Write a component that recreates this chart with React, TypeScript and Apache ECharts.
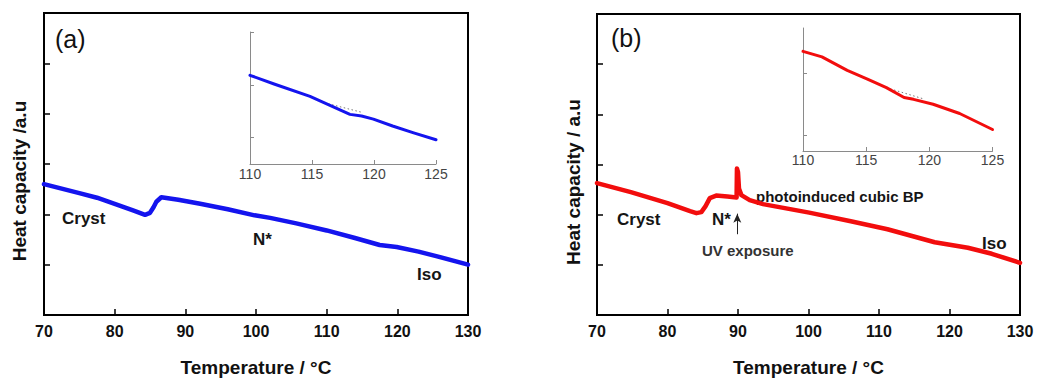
import React, { useEffect, useRef } from "react";
import * as echarts from "echarts";

const FONT = "Liberation Sans, Arial, Helvetica, sans-serif";
const BLUE = "#1414ee";
const RED = "#f20d0d";

// Panel (a) main curve
const tempA = [70, 72.5, 75, 77.5, 80, 82.6, 84.3, 85.0, 85.5, 85.9, 86.6, 89, 92.1, 96, 99.8, 102, 105.7, 110, 114, 117.5, 119.9, 123, 125.5, 130];
const cpA = [2.6, 2.51, 2.42, 2.33, 2.21, 2.08, 1.99, 2.03, 2.14, 2.25, 2.34, 2.29, 2.21, 2.1, 1.98, 1.93, 1.82, 1.68, 1.53, 1.39, 1.35, 1.26, 1.17, 1.0];

// Panel (a) inset
const insetTempA = [110, 112, 114.84, 116.45, 117.3, 118.06, 119.0, 119.95, 121.5, 123.2, 125];
const insetCpA = [1.68, 1.51, 1.28, 1.11, 1.02, 0.94, 0.91, 0.85, 0.72, 0.59, 0.46];
const insetDotTempA = [116.0, 119.0];
const insetDotCpA = [1.16, 0.98];

// Panel (b) main curve
const tempB = [70, 74.8, 80, 83.2, 84.1, 84.8, 85.4, 86.0, 86.9, 88.5, 89.8, 89.85, 90.0, 90.14, 90.48, 91.66, 93.55, 100.1, 106, 111.2, 117.9, 122.6, 126, 130];
const cpB = [2.63, 2.45, 2.23, 2.07, 2.03, 2.05, 2.17, 2.33, 2.38, 2.36, 2.34, 2.92, 2.85, 2.52, 2.39, 2.29, 2.21, 2.04, 1.87, 1.71, 1.45, 1.34, 1.22, 1.04];

// Panel (b) inset
const insetTempB = [110, 111.5, 113.5, 115.1, 116.6, 118.0, 118.75, 120.3, 122.4, 125];
const insetCpB = [1.62, 1.53, 1.31, 1.17, 1.03, 0.87, 0.84, 0.76, 0.61, 0.35];
const insetDotTempB = [116.6, 119.5];
const insetDotCpB = [1.03, 0.85];

// UV exposure arrow (data coords)
const arrowTemp = 89.9;
const arrowFrom = 1.61;
const arrowTo = 2.02;

// Inset y tick positions
const insetTicksA = [0.5, 1.5, 2.5];
const insetTicksB = [0.26, 1.26];

const zip = (xs: number[], ys: number[]) => xs.map((x, i) => [x, ys[i]]);

function mainX(gridIndex: number) {
  return {
    gridIndex,
    type: "value",
    min: 70,
    max: 130,
    interval: 10,
    axisLine: { show: true, onZero: false, lineStyle: { color: "#000", width: 2 } },
    axisTick: { show: true, inside: true, length: 6, lineStyle: { color: "#000", width: 1.5 } },
    axisLabel: { color: "#111", fontSize: 16, fontWeight: "bold", fontFamily: FONT, margin: 8 },
    splitLine: { show: false },
    name: "Temperature / °C",
    nameLocation: "middle",
    nameGap: 43,
    nameTextStyle: { color: "#111", fontSize: 19, fontWeight: "bold", fontFamily: FONT },
  };
}

function mainY(gridIndex: number) {
  return {
    gridIndex,
    type: "value",
    min: 0,
    max: 6,
    interval: 1,
    axisLine: { show: true, onZero: false, lineStyle: { color: "#000", width: 2 } },
    axisTick: { show: true, inside: true, length: 6, lineStyle: { color: "#000", width: 1.5 } },
    axisLabel: { show: false },
    splitLine: { show: false },
  };
}

function insetX(gridIndex: number, margin: number) {
  return {
    gridIndex,
    type: "value",
    min: 110,
    max: 125,
    interval: 5,
    axisLine: { show: true, onZero: false, lineStyle: { color: "#8a8a8a", width: 1 } },
    axisTick: { show: true, inside: true, length: 4, lineStyle: { color: "#8a8a8a", width: 1 } },
    axisLabel: { color: "#444", fontSize: 14, fontFamily: FONT, margin },
    splitLine: { show: false },
  };
}

function insetY(gridIndex: number, max: number, ticks: number[]) {
  return {
    gridIndex,
    type: "value",
    min: 0,
    max,
    axisLine: { show: true, onZero: false, lineStyle: { color: "#8a8a8a", width: 1 } },
    axisTick: { show: true, inside: true, length: 4, customValues: ticks, lineStyle: { color: "#8a8a8a", width: 1 } },
    axisLabel: { show: false, customValues: ticks },
    splitLine: { show: false },
  };
}

const lineSeries = (xi: number, data: number[][], color: string, width: number) => ({
  type: "line",
  xAxisIndex: xi,
  yAxisIndex: xi,
  data,
  showSymbol: false,
  silent: true,
  lineStyle: { color, width, cap: "round", join: "round" },
});

const dotSeries = (xi: number, data: number[][]) => ({
  type: "line",
  xAxisIndex: xi,
  yAxisIndex: xi,
  data,
  showSymbol: false,
  silent: true,
  z: 1,
  lineStyle: { color: "#777", width: 1, type: [1.5, 2.5] },
});

const label = (text: string, x: number, y: number, size: number, weight = "bold", color = "#151515") => ({
  type: "text",
  x,
  y,
  silent: true,
  style: { text, fill: color, fontSize: size, fontWeight: weight, fontFamily: FONT, align: "left", verticalAlign: "middle" },
});

export default function App() {
  const ref = useRef<HTMLDivElement>(null);
  useEffect(() => {
    document.body.style.margin = "0";
    if (!ref.current) return;
    const chart = echarts.init(ref.current, null, { renderer: "svg" });
    chart.setOption({
      animation: false,
      backgroundColor: "#fff",
      grid: [
        { left: 44, top: 13, width: 424, height: 309, show: true, borderColor: "#000", borderWidth: 2 },
        { left: 250, top: 32, width: 186, height: 132 },
        { left: 597, top: 14, width: 423, height: 309, show: true, borderColor: "#000", borderWidth: 2 },
        { left: 803, top: 28, width: 189.5, height: 123 },
      ],
      xAxis: [mainX(0), insetX(1, 3), mainX(2), insetX(3, 2)],
      yAxis: [mainY(0), insetY(1, 2.5, insetTicksA), mainY(2), insetY(3, 2, insetTicksB)],
      series: [
        lineSeries(0, zip(tempA, cpA), BLUE, 4.5),
        dotSeries(1, zip(insetDotTempA, insetDotCpA)),
        lineSeries(1, zip(insetTempA, insetCpA), BLUE, 3),
        lineSeries(2, zip(tempB, cpB), RED, 4.5),
        dotSeries(3, zip(insetDotTempB, insetDotCpB)),
        lineSeries(3, zip(insetTempB, insetCpB), RED, 3),
        {
          type: "line",
          xAxisIndex: 2,
          yAxisIndex: 2,
          data: [],
          silent: true,
          markLine: {
            silent: true,
            symbol: ["none", "arrow"],
            symbolSize: [6, 9],
            label: { show: false },
            lineStyle: { color: "#222", width: 1, type: "solid" },
            data: [[{ coord: [arrowTemp, arrowFrom] }, { coord: [arrowTemp, arrowTo] }]],
          },
        },
      ],
      graphic: [
        label("(a)", 55, 39, 25, "normal", "#111"),
        label("(b)", 611, 38, 25, "normal", "#111"),
        label("Cryst", 62, 218, 17),
        label("N*", 253, 239, 17),
        label("Iso", 417, 274, 17),
        label("Cryst", 617, 219, 17),
        label("N*", 712, 219, 17),
        label("Iso", 982, 243, 17),
        label("photoinduced cubic BP", 756, 196, 15),
        label("UV exposure", 702, 250, 15, "bold", "#333"),
        {
          type: "text",
          x: 19,
          y: 181,
          rotation: Math.PI / 2,
          silent: true,
          style: { text: "Heat capacity /a.u", fill: "#111", fontSize: 19, fontWeight: "bold", fontFamily: FONT, align: "center", verticalAlign: "middle" },
        },
        {
          type: "text",
          x: 573,
          y: 182,
          rotation: Math.PI / 2,
          silent: true,
          style: { text: "Heat capacity / a.u", fill: "#111", fontSize: 19, fontWeight: "bold", fontFamily: FONT, align: "center", verticalAlign: "middle" },
        },
      ],
    });
    return () => chart.dispose();
  }, []);
  return <div ref={ref} style={{ width: 1037, height: 382 }} />;
}
